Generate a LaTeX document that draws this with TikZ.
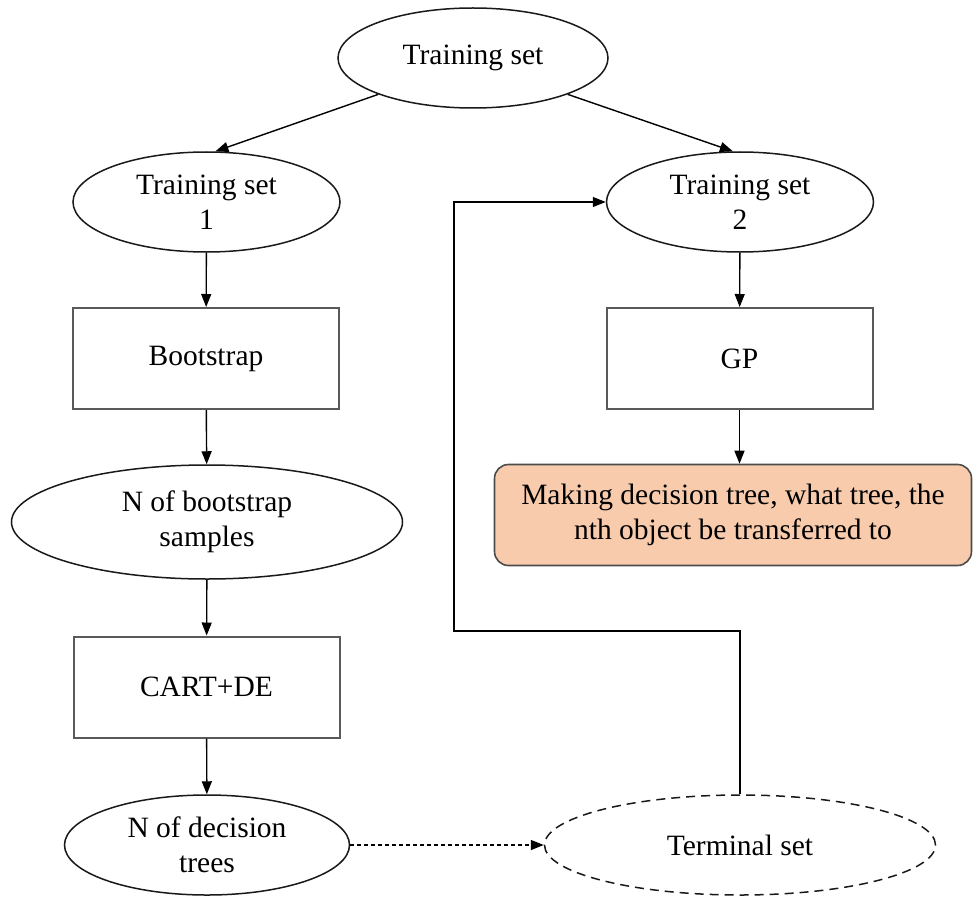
\documentclass[tikz,border=0pt]{standalone}
\usepackage{fontspec}
\setmainfont{Liberation Serif}
\usetikzlibrary{arrows.meta,shapes.geometric,calc}
\definecolor{peach}{HTML}{F8CBAD}
\begin{document}
\begin{tikzpicture}[x=1pt,y=-1pt,font=\fontsize{29.5}{35}\selectfont]
\tikzset{
 ell/.style={ellipse, draw=black!90, line width=1.5pt, inner sep=0pt, align=center},
 box/.style={rectangle, draw=black!65, line width=2pt, inner sep=0pt, align=center, minimum width=266pt, minimum height=101pt},
 arr/.style={-{Triangle[length=13pt,width=10pt]}, line width=1.4pt},
}
\useasboundingbox (0,0) rectangle (973,896);
\node[ell, minimum width=270pt, minimum height=100pt] (top) at (473,58) {Training set};
\node[ell, minimum width=267pt, minimum height=100pt] (ts1) at (206.5,202) {Training set\\1};
\node[ell, minimum width=267pt, minimum height=100pt] (ts2) at (740,202) {Training set\\2};
\node[box] (boot) at (206,358.5) {Bootstrap};
\node[box] (gp) at (739.5,358.5) {GP};
\node[ell, minimum width=391pt, minimum height=114pt] (nbs) at (207,522) {N of bootstrap\\samples};
\node[box] (cart) at (206.5,687) {CART+DE};
\node[ell, minimum width=285pt, minimum height=100pt] (ndt) at (207,845) {N of decision\\trees};
\node[ell, dash pattern=on 9pt off 6pt, minimum width=391pt, minimum height=100pt] (term) at (740,845) {Terminal set};
\node[rectangle, rounded corners=14pt, fill=peach, draw=black!70, line width=1.6pt, minimum width=477pt, minimum height=101pt, inner sep=0pt, align=center] (make) at (733,515) {Making decision tree, what tree, the\\nth object be transferred to};
\coordinate (c2) at (454,631);
\draw[arr] (top.201) -- (ts1.80);
\draw[arr] (top.-21) -- (ts2.98);
\draw[arr] (ts1) -- (boot);
\draw[arr] (boot) -- (nbs);
\draw[arr] (nbs) -- (cart);
\draw[arr] (cart) -- (ndt);
\draw[arr] (ts2) -- (gp);
\draw[arr] (gp.south) -- (gp.south |- make.north);
\draw[arr] (term.north) -- (term.north |- c2) -- (c2) |- (ts2.west);
\draw[arr, dash pattern=on 4pt off 3pt] (ndt.east) -- (term.west);
\end{tikzpicture}
\end{document}
